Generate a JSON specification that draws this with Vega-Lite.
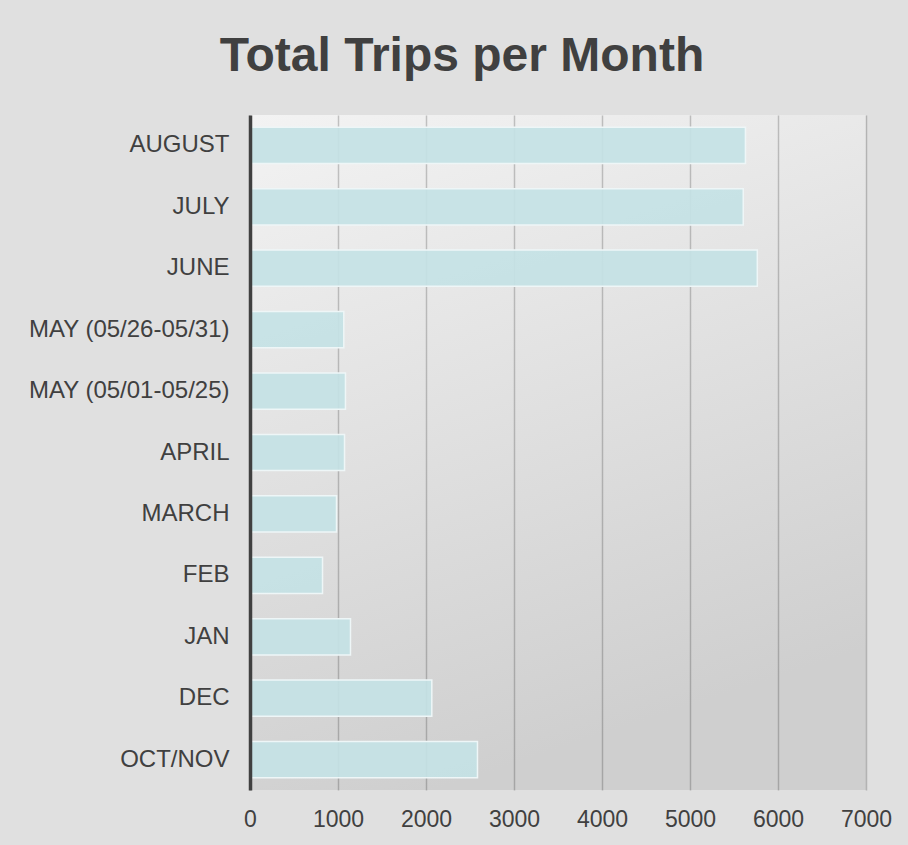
{
  "$schema": "https://vega.github.io/schema/vega-lite/v6.json",
  "width": 616,
  "height": 675,
  "autosize": {"type": "none"},
  "padding": {"left": 250, "top": 115, "right": 42, "bottom": 55},
  "background": "#e0e0e0",
  "title": {
    "text": "Total Trips per Month",
    "font": "Liberation Sans",
    "fontSize": 48,
    "fontWeight": "bold",
    "color": "#404040",
    "anchor": "middle",
    "baseline": "alphabetic",
    "offset": -4,
    "dx": -96
  },
  "data": {
    "values": [
      {"month": "AUGUST", "trips": 5630},
      {"month": "JULY", "trips": 5605},
      {"month": "JUNE", "trips": 5765},
      {"month": "MAY (05/26-05/31)", "trips": 1066},
      {"month": "MAY (05/01-05/25)", "trips": 1085},
      {"month": "APRIL", "trips": 1074},
      {"month": "MARCH", "trips": 983},
      {"month": "FEB", "trips": 824},
      {"month": "JAN", "trips": 1142},
      {"month": "DEC", "trips": 2066},
      {"month": "OCT/NOV", "trips": 2585}
    ]
  },
  "mark": {
    "type": "bar",
    "fill": "#c4e2e5",
    "fillOpacity": 0.92,
    "stroke": "#eef6f7",
    "strokeWidth": 1.5
  },
  "encoding": {
    "y": {
      "field": "month",
      "type": "nominal",
      "sort": null,
      "scale": {"paddingInner": 0.41, "paddingOuter": 0.2},
      "axis": {
        "title": null,
        "zindex": 1,
        "domain": true,
        "domainColor": "#404040",
        "domainWidth": 3.5,
        "ticks": false,
        "grid": false,
        "labelFont": "Liberation Sans",
        "labelFontSize": 24,
        "labelColor": "#404040",
        "labelPadding": 21,
        "labelLimit": 0
      }
    },
    "x": {
      "field": "trips",
      "type": "quantitative",
      "scale": {"domain": [0, 7000], "nice": false},
      "axis": {
        "title": null,
        "zindex": 0,
        "values": [0, 1000, 2000, 3000, 4000, 5000, 6000, 7000],
        "format": "d",
        "domain": false,
        "ticks": false,
        "grid": true,
        "gridColor": "#000000",
        "gridOpacity": 0.2,
        "gridWidth": 1.5,
        "labelFont": "Liberation Sans",
        "labelFontSize": 23,
        "labelColor": "#404040",
        "labelPadding": 18,
        "labelFlush": false,
        "labelOverlap": false
      }
    }
  },
  "config": {
    "view": {
      "stroke": null,
      "fill": {
        "gradient": "linear",
        "x1": 0, "y1": 0, "x2": 0.3, "y2": 1,
        "stops": [
          {"offset": 0, "color": "#f3f3f3"},
          {"offset": 1, "color": "#cfcfcf"}
        ]
      }
    }
  }
}
